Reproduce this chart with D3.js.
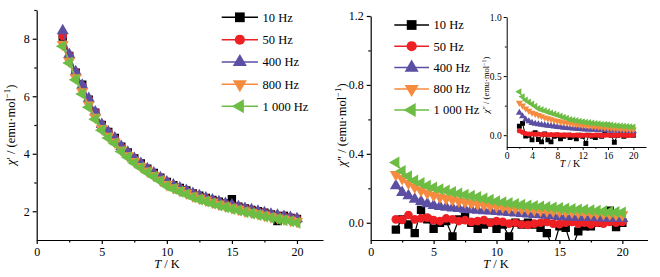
<!DOCTYPE html>
<html>
<head>
<meta charset="utf-8">
<script src="https://cdn.jsdelivr.net/npm/d3@7"></script>
<style>
  body { margin: 0; background: #fff; }
  svg text { font-family: "Liberation Serif", "Times New Roman", serif; fill: #000; }
</style>
</head>
<body>
<svg id="chart" width="660" height="277"></svg>
<script>
// temperatures, 2..20 K in 0.5 K steps
const temps = [2, 2.5, 3, 3.5, 4, 4.5, 5, 5.5, 6, 6.5, 7, 7.5, 8, 8.5, 9, 9.5, 10, 10.5, 11, 11.5,
  12, 12.5, 13, 13.5, 14, 14.5, 15, 15.5, 16, 16.5, 17, 17.5, 18, 18.5, 19, 19.5, 20];
const freqLabels = ["10 Hz", "50 Hz", "400 Hz", "800 Hz", "1 000 Hz"];
const colorList = ["#000000", "#ee2024", "#5b4fa3", "#f68b3f", "#6dbd45"];

// chi' (left panel)
const chi1_10 = [8.08, 7.40, 6.82, 6.40, 5.88, 5.43, 5.00, 4.76, 4.55, 4.25, 4.05, 3.84, 3.66, 3.48, 3.33, 3.17,
  3.02, 2.91, 2.81, 2.72, 2.62, 2.54, 2.46, 2.39, 2.33, 2.27, 2.42, 2.16, 2.10, 2.05, 2.00, 1.95, 1.89, 1.66, 1.84, 1.77, 1.73];
const chi1_50 = [8.10, 7.42, 6.84, 6.36, 5.90, 5.44, 5.01, 4.75, 4.54, 4.24, 4.04, 3.83, 3.65, 3.48, 3.32, 3.17,
  3.02, 2.90, 2.80, 2.71, 2.62, 2.53, 2.46, 2.39, 2.33, 2.27, 2.21, 2.16, 2.10, 2.05, 2.00, 1.95, 1.90, 1.86, 1.82, 1.78, 1.74];
const chi1_400 = [8.28, 7.45, 6.85, 6.38, 5.92, 5.45, 5.02, 4.76, 4.55, 4.25, 4.05, 3.84, 3.66, 3.48, 3.33, 3.17,
  3.02, 2.91, 2.81, 2.72, 2.62, 2.54, 2.46, 2.39, 2.33, 2.27, 2.22, 2.16, 2.10, 2.05, 2.00, 1.95, 1.90, 1.86, 1.82, 1.78, 1.74];
const chi1_800 = [7.80, 7.22, 6.64, 6.16, 5.70, 5.27, 4.88, 4.61, 4.41, 4.13, 3.93, 3.73, 3.56, 3.40, 3.24, 3.09,
  2.93, 2.82, 2.72, 2.63, 2.53, 2.45, 2.38, 2.31, 2.24, 2.18, 2.12, 2.07, 2.01, 1.96, 1.91, 1.86, 1.81, 1.77, 1.73, 1.69, 1.64];
const chi1_1000 = [7.74, 7.16, 6.57, 6.08, 5.62, 5.20, 4.82, 4.55, 4.36, 4.08, 3.88, 3.68, 3.51, 3.35, 3.20, 3.05,
  2.88, 2.78, 2.68, 2.59, 2.49, 2.41, 2.34, 2.27, 2.20, 2.14, 2.08, 2.03, 1.97, 1.92, 1.87, 1.82, 1.77, 1.73, 1.69, 1.65, 1.60];

// chi'' (right panel)
const chi2_10 = [-0.04, 0.02, -0.01, -0.06, 0.075, 0.02, -0.035, 0.0, 0.01, -0.08, 0.02, 0.035, 0.0, -0.035, -0.01, 0.0,
  -0.035, -0.01, -0.08, 0.0, -0.01, 0.0, -0.01, -0.03, -0.06, -0.15, -0.02, -0.03, -0.15, -0.05, -0.02, -0.02, 0.0, 0.02, 0.07, -0.025, 0.0];
const chi2_50 = [0.02, 0.017, 0.045, 0.02, 0.025, 0.03, 0.015, 0.01, 0.025, 0.02, 0.01, 0.015, 0.005, 0.01, 0.015, 0.0,
  0.01, 0.005, -0.005, 0.0, -0.01, -0.012, -0.005, 0.0, 0.005, -0.005, -0.008, 0.0, 0.005, -0.005, 0.0, -0.01, 0.0, -0.005, 0.005, 0.0, 0.005];
const chi2_400 = [0.215, 0.176, 0.157, 0.137, 0.124, 0.11, 0.10, 0.095, 0.09, 0.086, 0.083, 0.079, 0.075, 0.072, 0.07, 0.068,
  0.066, 0.063, 0.06, 0.057, 0.054, 0.051, 0.048, 0.046, 0.043, 0.04, 0.037, 0.035, 0.034, 0.032, 0.031, 0.03, 0.029, 0.028, 0.027, 0.026, 0.025];
const chi2_800 = [0.28, 0.257, 0.23, 0.207, 0.187, 0.172, 0.16, 0.15, 0.141, 0.133, 0.126, 0.12, 0.114, 0.108, 0.103, 0.099,
  0.095, 0.091, 0.087, 0.084, 0.081, 0.078, 0.075, 0.072, 0.07, 0.068, 0.066, 0.064, 0.062, 0.06, 0.058, 0.056, 0.054, 0.052, 0.05, 0.048, 0.046];
const chi2_1000 = [0.35, 0.30, 0.27, 0.245, 0.23, 0.215, 0.205, 0.195, 0.187, 0.178, 0.17, 0.163, 0.156, 0.149, 0.141, 0.133,
  0.125, 0.119, 0.114, 0.109, 0.104, 0.1, 0.097, 0.094, 0.091, 0.088, 0.085, 0.082, 0.08, 0.077, 0.075, 0.072, 0.07, 0.066, 0.064, 0.062, 0.06];

// chi'' (inset)
const inset_10 = [0.076, 0.1, -0.008, 0.0, -0.04, 0.02, -0.037, -0.057, 0.01, -0.04, -0.057, -0.01, 0.0, -0.03, -0.01, 0.0,
  -0.02, -0.01, -0.03, 0.0, -0.01, -0.07, 0.0, -0.01, -0.02, 0.0, -0.01, 0.01, 0.085, 0.0, -0.06, 0.0, 0.01, -0.01, 0.0, 0.01, 0.0];
const inset_50 = [0.037, 0.025, 0.014, 0.01, 0.012, 0.008, 0.01, 0.005, 0.008, 0.004, 0.006, 0.003, 0.005, 0.002, 0.004, 0.0,
  0.003, 0.0, 0.002, -0.002, 0.0, 0.002, -0.003, 0.0, 0.002, 0.0, -0.002, 0.0, 0.002, 0.0, -0.002, 0.0, 0.003, 0.0, -0.002, 0.0, 0.002];
const inset_400 = [0.19, 0.16, 0.133, 0.118, 0.104, 0.097, 0.092, 0.088, 0.085, 0.081, 0.078, 0.074, 0.07, 0.067, 0.064, 0.061,
  0.058, 0.056, 0.054, 0.052, 0.05, 0.049, 0.048, 0.047, 0.046, 0.045, 0.044, 0.043, 0.042, 0.041, 0.04, 0.039, 0.038, 0.037, 0.036, 0.035, 0.034];
const inset_800 = [0.274, 0.25, 0.226, 0.206, 0.19, 0.18, 0.17, 0.16, 0.15, 0.142, 0.135, 0.127, 0.12, 0.115, 0.11, 0.105,
  0.1, 0.096, 0.093, 0.089, 0.085, 0.082, 0.079, 0.076, 0.073, 0.07, 0.067, 0.064, 0.061, 0.059, 0.057, 0.055, 0.053, 0.051, 0.05, 0.049, 0.048];
const inset_1000 = [0.367, 0.325, 0.297, 0.28, 0.263, 0.245, 0.226, 0.216, 0.206, 0.197, 0.188, 0.179, 0.17, 0.161, 0.152, 0.143,
  0.133, 0.128, 0.123, 0.118, 0.113, 0.109, 0.106, 0.102, 0.099, 0.096, 0.093, 0.09, 0.087, 0.085, 0.082, 0.08, 0.078, 0.076, 0.074, 0.072, 0.07];

const svg = d3.select("#chart");

const symbolFor = [
  { type: d3.symbolSquare, rot: 0, k: 1.0 },
  { type: d3.symbolCircle, rot: 0, k: 0.85 },
  { type: d3.symbolTriangle, rot: 0, k: 0.9 },
  { type: d3.symbolTriangle, rot: 180, k: 0.9 },
  { type: d3.symbolTriangle, rot: -90, k: 0.9 },
];

function drawMarker(g, i, x, y, size) {
  const s = symbolFor[i];
  g.append("path")
    .attr("d", d3.symbol().type(s.type).size(size * s.k)())
    .attr("transform", `translate(${x},${y}) rotate(${s.rot})`)
    .attr("fill", colorList[i]);
}

function yLabel(g, x, y, prime, fs) {
  const t = g.append("text")
    .attr("transform", `translate(${x},${y}) rotate(-90)`)
    .attr("text-anchor", "middle")
    .style("font-size", fs + "px");
  t.append("tspan").attr("font-style", "italic").text("χ");
  t.append("tspan").text(prime + " / (emu·mol");
  t.append("tspan").attr("dy", -fs * 0.4).style("font-size", (fs * 0.7) + "px").text("−1");
  t.append("tspan").attr("dy", fs * 0.4).text(")");
}

function xLabel(g, x, y, fs) {
  const t = g.append("text")
    .attr("x", x).attr("y", y)
    .attr("text-anchor", "middle")
    .style("font-size", fs + "px");
  t.append("tspan").attr("font-style", "italic").text("T");
  t.append("tspan").text(" / K");
}

function panel(opt) {
  const g = svg.append("g");
  const x = d3.scaleLinear().domain(opt.xDomain).range(opt.xRange);
  const y = d3.scaleLinear().domain(opt.yDomain).range(opt.yRange);
  const yBase = opt.yRange[0], xBase = opt.xRange[0];

  // axes
  const xa = g.append("g").attr("transform", `translate(0,${yBase})`)
    .call(d3.axisBottom(x).tickValues(opt.xTicks).tickFormat(d3.format("d"))
      .tickSize(opt.tick).tickSizeOuter(0).tickPadding(opt.pad));
  g.append("g").attr("transform", `translate(0,${yBase})`)
    .call(d3.axisBottom(x).tickValues(opt.xMinor).tickFormat("").tickSize(opt.tick * 0.6).tickSizeOuter(0))
    .select(".domain").remove();
  const ya = g.append("g").attr("transform", `translate(${xBase},0)`)
    .call(d3.axisLeft(y).tickValues(opt.yTicks).tickFormat(opt.yFmt)
      .tickSize(opt.tick).tickSizeOuter(0).tickPadding(opt.pad));
  g.append("g").attr("transform", `translate(${xBase},0)`)
    .call(d3.axisLeft(y).tickValues(opt.yMinor).tickFormat("").tickSize(opt.tick * 0.6).tickSizeOuter(0))
    .select(".domain").remove();
  g.selectAll(".domain, .tick line").attr("stroke", "#000").attr("stroke-width", opt.axisW);
  [xa, ya].forEach((a) => a.selectAll("text")
    .style("font-family", '"Liberation Serif", serif').style("font-size", opt.fs + "px").attr("fill", "#000"));

  // clip
  const cid = "clip" + Math.round(xBase);
  svg.append("defs").append("clipPath").attr("id", cid)
    .append("rect")
    .attr("x", opt.xRange[0]).attr("y", opt.yRange[1] - 10)
    .attr("width", opt.xRange[1] - opt.xRange[0]).attr("height", opt.yRange[0] - opt.yRange[1] + 10);
  const plot = g.append("g").attr("clip-path", `url(#${cid})`);

  const line = d3.line().x((d) => x(d[0])).y((d) => y(d[1]));
  opt.series.forEach((vals, i) => {
    const pts = temps.map((t, j) => [t, vals[j]]);
    const sg = plot.append("g");
    sg.append("path").datum(pts).attr("d", line)
      .attr("fill", "none").attr("stroke", colorList[i]).attr("stroke-width", opt.lineW);
    pts.forEach((p) => drawMarker(sg, i, x(p[0]), y(p[1]), opt.mSize));
  });
  return g;
}

const left = panel({
  xDomain: [0, 22], xRange: [36.7, 323], yDomain: [1, 9], yRange: [240, 10],
  xTicks: [0, 5, 10, 15, 20], xMinor: [2.5, 7.5, 12.5, 17.5],
  yTicks: [2, 4, 6, 8], yMinor: [3, 5, 7, 9], yFmt: d3.format("d"),
  tick: 4, pad: 3, fs: 12, axisW: 1.2, lineW: 1.2, mSize: 70,
  series: [chi1_10, chi1_50, chi1_400, chi1_800, chi1_1000],
});
xLabel(left, 167, 268, 12.5);
yLabel(left, 15, 125, "′", 12.5);

const right = panel({
  xDomain: [0, 22], xRange: [370.7, 647.5], yDomain: [-0.1, 1.2], yRange: [240, 16],
  xTicks: [0, 5, 10, 15, 20], xMinor: [2.5, 7.5, 12.5, 17.5],
  yTicks: [0, 0.4, 0.8, 1.2], yMinor: [0.2, 0.6, 1.0], yFmt: d3.format(".1f"),
  tick: 4, pad: 3, fs: 12, axisW: 1.2, lineW: 1.2, mSize: 70,
  series: [chi2_10, chi2_50, chi2_400, chi2_800, chi2_1000],
});
xLabel(right, 496, 268, 12.5);
yLabel(right, 346, 125, "″", 12.5);

const inset = panel({
  xDomain: [0, 22], xRange: [506.7, 646], yDomain: [-0.1, 1.0], yRange: [147, 17],
  xTicks: [0, 4, 8, 12, 16, 20], xMinor: [2, 6, 10, 14, 18],
  yTicks: [0, 0.5, 1.0], yMinor: [0.25, 0.75], yFmt: d3.format(".1f"),
  tick: 3, pad: 2, fs: 9.5, axisW: 1, lineW: 1, mSize: 24,
  series: [inset_10, inset_50, inset_400, inset_800, inset_1000],
});
xLabel(inset, 570, 167, 10);
yLabel(inset, 489, 85, "″", 8.5);

// legends
function legend(x0, x1, rows) {
  const g = svg.append("g");
  freqLabels.forEach((lab, i) => {
    const yy = rows[i];
    g.append("line").attr("x1", x0).attr("x2", x1).attr("y1", yy).attr("y2", yy)
      .attr("stroke", colorList[i]).attr("stroke-width", 1.5);
    drawMarker(g, i, (x0 + x1) / 2, yy, 95);
    g.append("text").attr("x", x1 + 4.5).attr("y", yy + 4.3)
      .style("font-size", "12.5px").text(lab);
  });
}
legend(221.7, 258, [17.3, 39.7, 62, 84.2, 106.3]);
legend(394.3, 429, [25, 46.2, 67.6, 89, 110]);
</script>
</body>
</html>
